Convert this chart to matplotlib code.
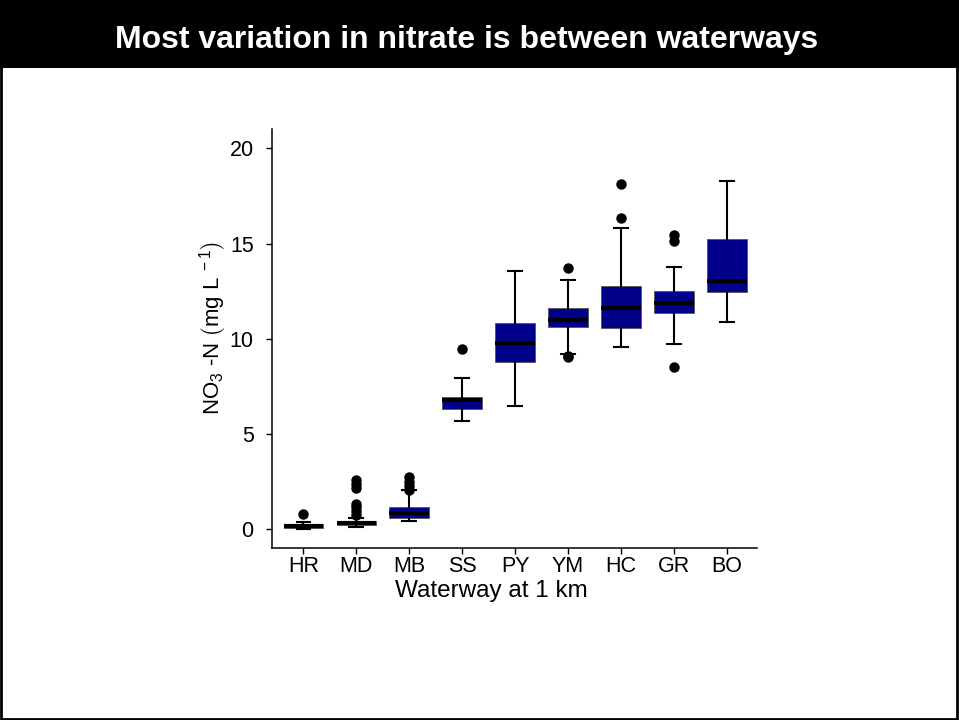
import matplotlib
matplotlib.use('Agg')
import matplotlib.pyplot as plt
from matplotlib.patches import Rectangle

plt.rcParams['font.family'] = ['Liberation Sans', 'DejaVu Sans']
plt.rcParams['mathtext.fontset'] = 'custom'
plt.rcParams['mathtext.rm'] = 'Liberation Sans'
plt.rcParams['mathtext.it'] = 'Liberation Sans'

# values (mg/L)
sites = ['HR', 'MD', 'MB', 'SS', 'PY', 'YM', 'HC', 'GR', 'BO']
whislo = [0.02, 0.12, 0.44, 5.70, 6.48, 9.22, 9.59, 9.74, 10.88]
q1 = [0.08, 0.20, 0.58, 6.32, 8.77, 10.60, 10.58, 11.37, 12.44]
med = [0.17, 0.33, 0.86, 6.79, 9.76, 10.97, 11.60, 11.86, 13.02]
q3 = [0.27, 0.45, 1.17, 6.96, 10.81, 11.62, 12.76, 12.51, 15.22]
whishi = [0.38, 0.60, 2.05, 7.96, 13.57, 13.10, 15.82, 13.77, 18.30]
fliers = [
    [0.80],
    [0.75, 0.95, 1.15, 1.30, 2.15, 2.35, 2.60],
    [2.05, 2.25, 2.50, 2.75],
    [9.45],
    [],
    [9.03, 9.10, 13.70],
    [16.33, 18.11],
    [8.50, 15.15, 15.45],
    [],
]

stats = []
for i in range(len(sites)):
    stats.append({'label': sites[i], 'whislo': whislo[i], 'q1': q1[i], 'med': med[i],
                  'q3': q3[i], 'whishi': whishi[i], 'fliers': fliers[i]})

fig = plt.figure(figsize=(9.59, 7.2), dpi=100)

# header band and frame
fig.patches.append(Rectangle((0, 1 - 68 / 720), 1, 68 / 720, transform=fig.transFigure,
                             facecolor='black', edgecolor='none', zorder=0))
fig.patches.append(Rectangle((0.001, 0.001), 0.997, 0.998, transform=fig.transFigure,
                             facecolor='none', edgecolor='black', linewidth=2, zorder=1))
fig.text(0.487, 1 - 40 / 720, 'Most variation in nitrate is between waterways',
         color='white', fontsize=23, fontweight='bold', ha='center', va='center')

ax = fig.add_axes([0.2833, 0.2385, 0.5061, 0.5819])
ax.bxp(stats, positions=range(1, 10), widths=0.75, capwidths=0.26, patch_artist=True,
       boxprops=dict(facecolor='#00008B', edgecolor='#555555', linewidth=0.6),
       medianprops=dict(color='black', linewidth=3),
       whiskerprops=dict(color='black', linewidth=1.5),
       capprops=dict(color='black', linewidth=1.5),
       flierprops=dict(marker='o', markerfacecolor='black', markeredgecolor='black',
                       markersize=6.5))

ax.set_xlim(0.4, 9.57)
ax.set_ylim(-1, 21)
ax.set_yticks([0, 5, 10, 15, 20])
ax.spines['top'].set_visible(False)
ax.spines['right'].set_visible(False)
ax.spines['left'].set_linewidth(1.1)
ax.spines['bottom'].set_linewidth(1.1)
ax.tick_params(labelsize=15.5, length=4, width=1)
ax.tick_params(axis='x', pad=1.5)
ax.tick_params(axis='y', pad=9)

ax.set_xlabel('Waterway at 1 km', fontsize=17.5)
ax.xaxis.set_label_coords(0.453, -0.076)
ax.set_ylabel(r'NO$_3$ -N $\left(\mathregular{mg\ L^{\ -1}_{\ }}\right)$', fontsize=16)
ax.yaxis.set_label_coords(-0.087, 0.526)

fig.savefig('out.png', dpi=100)
